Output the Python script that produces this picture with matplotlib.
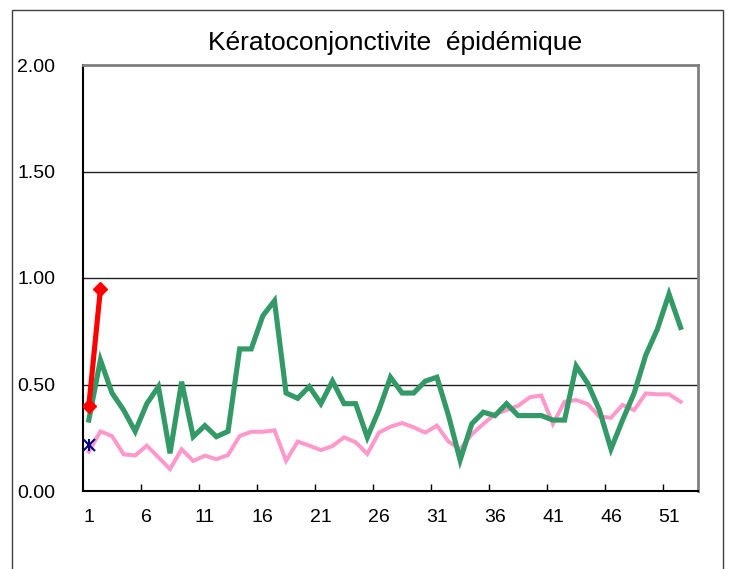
import matplotlib
matplotlib.use("Agg")
import matplotlib.pyplot as plt
from matplotlib.patches import Rectangle

plt.rcParams['font.family'] = ['Liberation Sans', 'DejaVu Sans']

title = "Kératoconjonctivite  épidémique"
n_categories = 53
weeks = list(range(1, 53))
green_vals = [0.333, 0.615, 0.46, 0.38, 0.28, 0.41, 0.49, 0.177, 0.513, 0.255,
              0.307, 0.255, 0.28, 0.667, 0.667, 0.823, 0.893, 0.46, 0.435, 0.49,
              0.41, 0.516, 0.41, 0.41, 0.252, 0.38, 0.534, 0.46, 0.46, 0.516,
              0.534, 0.354, 0.145, 0.315, 0.37, 0.354, 0.41, 0.354, 0.354, 0.354,
              0.333, 0.333, 0.587, 0.505, 0.38, 0.197, 0.333, 0.46, 0.638, 0.76,
              0.925, 0.768]
pink_vals = [0.185, 0.28, 0.258, 0.172, 0.167, 0.213, 0.158, 0.103, 0.196, 0.141,
             0.166, 0.149, 0.169, 0.258, 0.278, 0.278, 0.285, 0.142, 0.232, 0.213,
             0.192, 0.211, 0.252, 0.229, 0.174, 0.274, 0.302, 0.319, 0.299, 0.274,
             0.307, 0.232, 0.196, 0.266, 0.315, 0.36, 0.38, 0.40, 0.44, 0.448,
             0.315, 0.419, 0.427, 0.408, 0.349, 0.344, 0.404, 0.38, 0.458, 0.454,
             0.454, 0.419]
red_weeks = [1, 2]
red_vals = [0.40, 0.947]
star_weeks = [1]
star_vals = [0.216]
y_ticks = [0.0, 0.5, 1.0, 1.5, 2.0]
x_labels = list(range(1, 53, 5))

fig = plt.figure(figsize=(7.33, 5.69), dpi=100)
fig.patches.append(Rectangle((12/733, -0.05), (723-12)/733, 1.05 - 10/569,
                             transform=fig.transFigure, fill=False,
                             edgecolor='#404040', linewidth=1.0, zorder=0))

ax = fig.add_axes([83/733, (569-491)/569, 615/733, 426/569])

ax.plot(weeks, pink_vals, color='#FF99CC', linewidth=2.9, zorder=3, solid_joinstyle='miter')
ax.plot(weeks, green_vals, color='#339966', linewidth=3.7, zorder=4, solid_joinstyle='miter')
ax.plot(red_weeks, red_vals, color='#FF0000', linewidth=3.7, marker='D',
        markersize=7, zorder=5)
ax.plot(star_weeks, star_vals, linestyle='none', marker='x', color='#000080',
        markersize=9, markeredgewidth=1.5, zorder=6)
ax.plot(star_weeks, star_vals, linestyle='none', marker='|', color='#000080',
        markersize=9, markeredgewidth=1.5, zorder=6)

ax.set_xlim(0.5, n_categories + 0.5)
ax.set_ylim(0, 2.0)

ax.set_yticks(y_ticks)
ax.set_yticklabels([f"{v:.2f}" for v in y_ticks])
ax.tick_params(axis='y', length=0, pad=20, labelsize=14)
for v in y_ticks[1:]:
    ax.axhline(v, color='#222222', linewidth=1.0, zorder=1)

ax.set_xticks([b + 0.5 for b in range(5, n_categories, 5)])
ax.set_xticklabels([])
ax.tick_params(axis='x', which='major', direction='in', length=5, width=1, color='black')
ax.set_xticks(x_labels, minor=True)
ax.set_xticklabels([str(v) for v in x_labels], minor=True)
ax.tick_params(axis='x', which='minor', length=0, pad=13, labelsize=14)

ax.spines['left'].set_color('black')
ax.spines['left'].set_linewidth(1.5)
ax.spines['bottom'].set_color('black')
ax.spines['bottom'].set_linewidth(1.5)
ax.spines['top'].set_color('#808080')
ax.spines['top'].set_linewidth(2)
ax.spines['right'].set_color('#808080')
ax.spines['right'].set_linewidth(2)

fig.text(395/733, 1 - 43/569, title, ha='center', va='center', fontsize=19)

fig.savefig('out.png', dpi=100)
